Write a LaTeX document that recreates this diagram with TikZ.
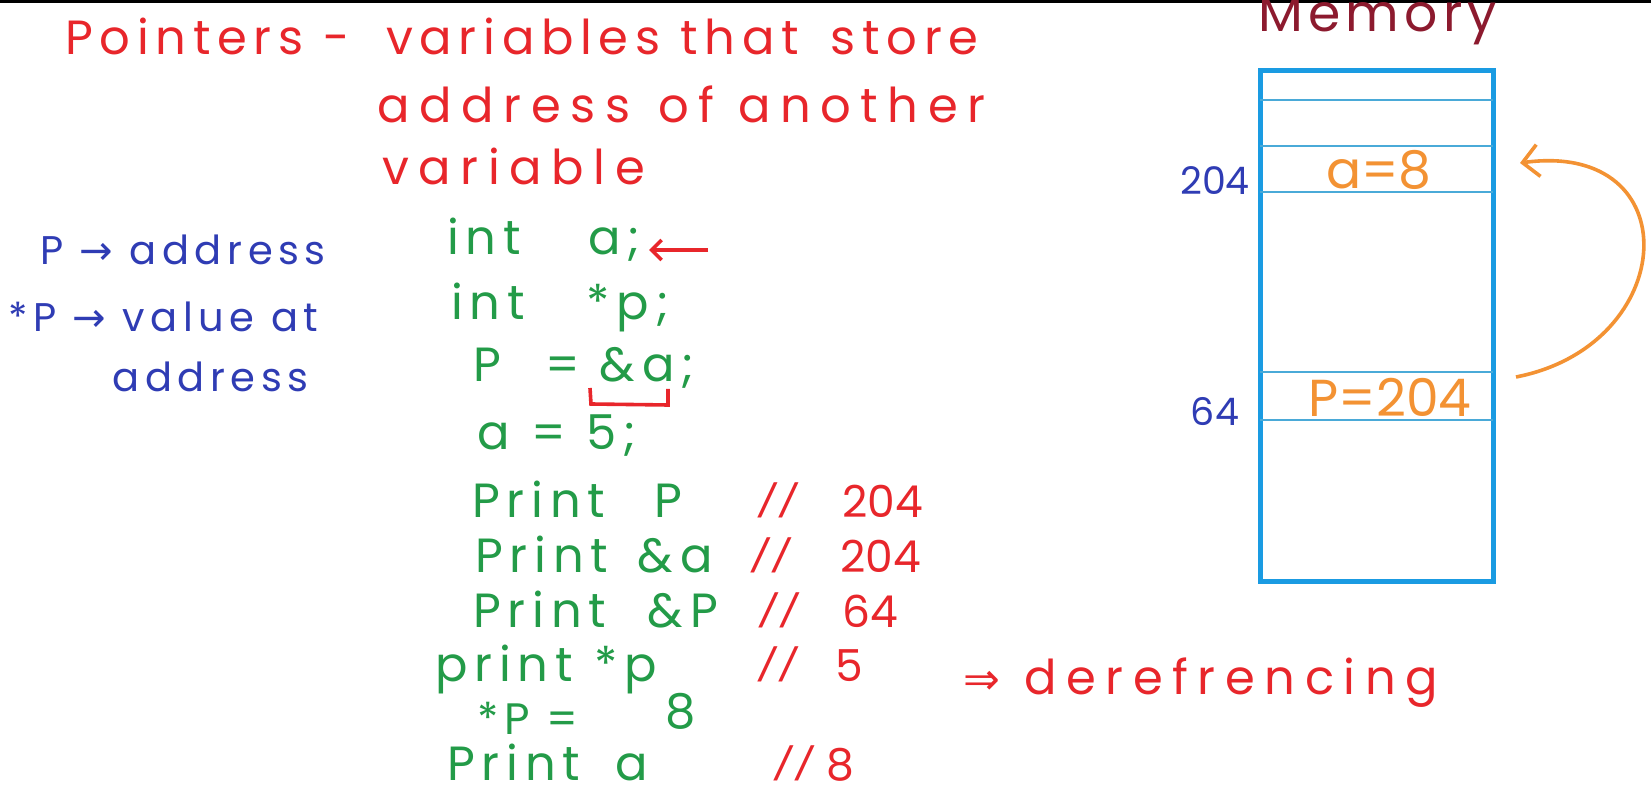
\documentclass[tikz,border=0pt]{standalone}
\usepackage{fontspec}
\setmainfont{Poppins}
\newfontfamily\symfont{DejaVu Sans}
\newfontfamily\slashfont{Liberation Sans}
\newfontfamily\titlefont[LetterSpace=14]{Poppins}
\newfontfamily\codefont[LetterSpace=14]{Poppins}
\newfontfamily\notefont[LetterSpace=14]{Poppins}
\newfontfamily\widefont[LetterSpace=20]{Poppins}
\newfontfamily\memfont[LetterSpace=10]{Poppins}
\usetikzlibrary{arrows.meta, positioning}

\tikzset{
  ink/.style={inner sep=0pt, anchor=base west},
  titletext/.style={ink, text=inkred, font=\titlefont\fontsize{24}{28}\selectfont},
  notetext/.style={ink, text=inkblue, font=\notefont\fontsize{20}{24}\selectfont},
  codetext/.style={ink, text=inkgreen, font=\codefont\fontsize{24}{28}\selectfont},
  cmttext/.style={ink, text=inkred, font=\fontsize{22}{26}\selectfont},
  celltext/.style={inner sep=0pt, text=inkorange, font=\fontsize{26}{30}\selectfont},
  addrtext/.style={inner sep=0pt, text=inkblue, font=\fontsize{19}{22}\selectfont},
}
\newcommand{\cmtslash}{{\slashfont\itshape\fontsize{24}{28}\selectfont /\hspace{4pt}/}}

\begin{document}
\begin{tikzpicture}[x=0.5pt,y=-0.5pt]
\definecolor{inkred}{HTML}{E8262B}
\definecolor{inkblue}{HTML}{2F3CB4}
\definecolor{inkgreen}{HTML}{239B48}
\definecolor{inkorange}{HTML}{F39233}
\definecolor{inkmaroon}{HTML}{8C1A2E}
\definecolor{boxblue}{HTML}{1A9BE2}
\definecolor{cellblue}{HTML}{4AAAD8}

\useasboundingbox (0,0) rectangle (1651,807);
\clip (0,0) rectangle (1651,807);
\fill[white] (0,0) rectangle (1651,807);
\fill[black] (0,0) rectangle (1651,3);

% definition
\node[titletext] (title1) at (65,55)
  {Pointers\hspace{10pt}-\hspace{18pt}variables\hspace{10pt}that\hspace{16pt}store};
\node[titletext, font=\widefont\fontsize{24}{28}\selectfont] (title2) at (377,123)
  {address\hspace{14pt}of\hspace{12pt}another};
\node[titletext, font=\widefont\fontsize{24}{28}\selectfont] (title3) at (382,185) {variable};

% notes on the left
\node[notetext] (ptraddr) at (40,265) {P {\symfont →} address};
\node[notetext] (ptrval) at (8,332) {*P {\symfont →} value at};
\node[notetext] (ptrval2) at (112,392) {address};

% code
\node[codetext] (inta) at (447,255) {int\hspace{34pt}a;};
\node[codetext] (intp) at (451,320) {int\hspace{31pt}*p;};
\node[codetext] (assignp) at (473,382) {P\hspace{22pt}=\hspace{10pt}\&a;};
\node[codetext] (assigna) at (477,450) {a\hspace{11pt}=\hspace{10pt}5;};
\node[codetext] (printp) at (472,518) {Print\hspace{25pt}P};
\node[codetext] (printaddra) at (475,573) {Print\hspace{15pt}\&a};
\node[codetext] (printaddrp) at (473,628) {Print\hspace{21pt}\&P};
\node[codetext] (printderef) at (435,682) {print\hspace{11pt}*p};
\node[codetext, font=\codefont\fontsize{22}{26}\selectfont]
  (setderef) at (477,734) {*P\hspace{8pt}=};
\node[codetext] (setval) at (665,728) {8};
\node[codetext] (printa) at (447,780) {Print\hspace{18pt}a};

% comments
\node[cmttext] (slashp) at (760,518) {\cmtslash};
\node[cmttext] (valp) at (842,518) {204};
\node[cmttext] (slashaddra) at (753,573) {\cmtslash};
\node[cmttext] (valaddra) at (840,573) {204};
\node[cmttext] (slashaddrp) at (761,628) {\cmtslash};
\node[cmttext] (valaddrp) at (842,628) {64};
\node[cmttext] (slashderef) at (760,682) {\cmtslash};
\node[cmttext] (valderef) at (835,682) {5};
\node[cmttext] (derefname) at (963,695)
  {{\symfont ⇒}\hspace{12pt}{\widefont\fontsize{24}{28}\selectfont derefrencing}};
\node[cmttext] (slasha) at (776,780) {\cmtslash};
\node[cmttext] (vala) at (826,780) {8};

\coordinate (marktail) at (708,250);
\draw[inkred, line width=1.8pt, shorten >=4pt, -{Straight Barb[length=5pt,width=10pt]}]
  (marktail) -- (inta.east |- marktail);
\draw[inkred, line width=1.8pt] (590,388) -- (591,404) -- (668,405) -- (668,389);

% memory
\node[ink, text=inkmaroon, font=\memfont\fontsize{26}{30}\selectfont]
  (memtitle) at (1258,32) {Memory};
\draw[boxblue, line width=2.5pt] (1260,71) rectangle (1493,582);
\foreach \row in {100,146,192,372,420} {
  \draw[cellblue, line width=0.8pt] (1260,\row) -- (1493,\row);
}
\node[celltext] (acell) at (1379,170) {a=8};
\node[celltext] (pcell) at (1390,397) {P=204};
\node[addrtext] (addr204) at (1215,181) {204};
\node[addrtext] (addr64) at (1215,412) {64};

\coordinate (curvestart) at (1516,377);
\coordinate (curveend) at (1520,163);
\draw[inkorange, line width=1.8pt, -{Straight Barb[length=8pt,width=16pt]}]
  (curvestart) .. controls (1680,345) and (1690,140) .. (curveend);
\end{tikzpicture}
\end{document}
